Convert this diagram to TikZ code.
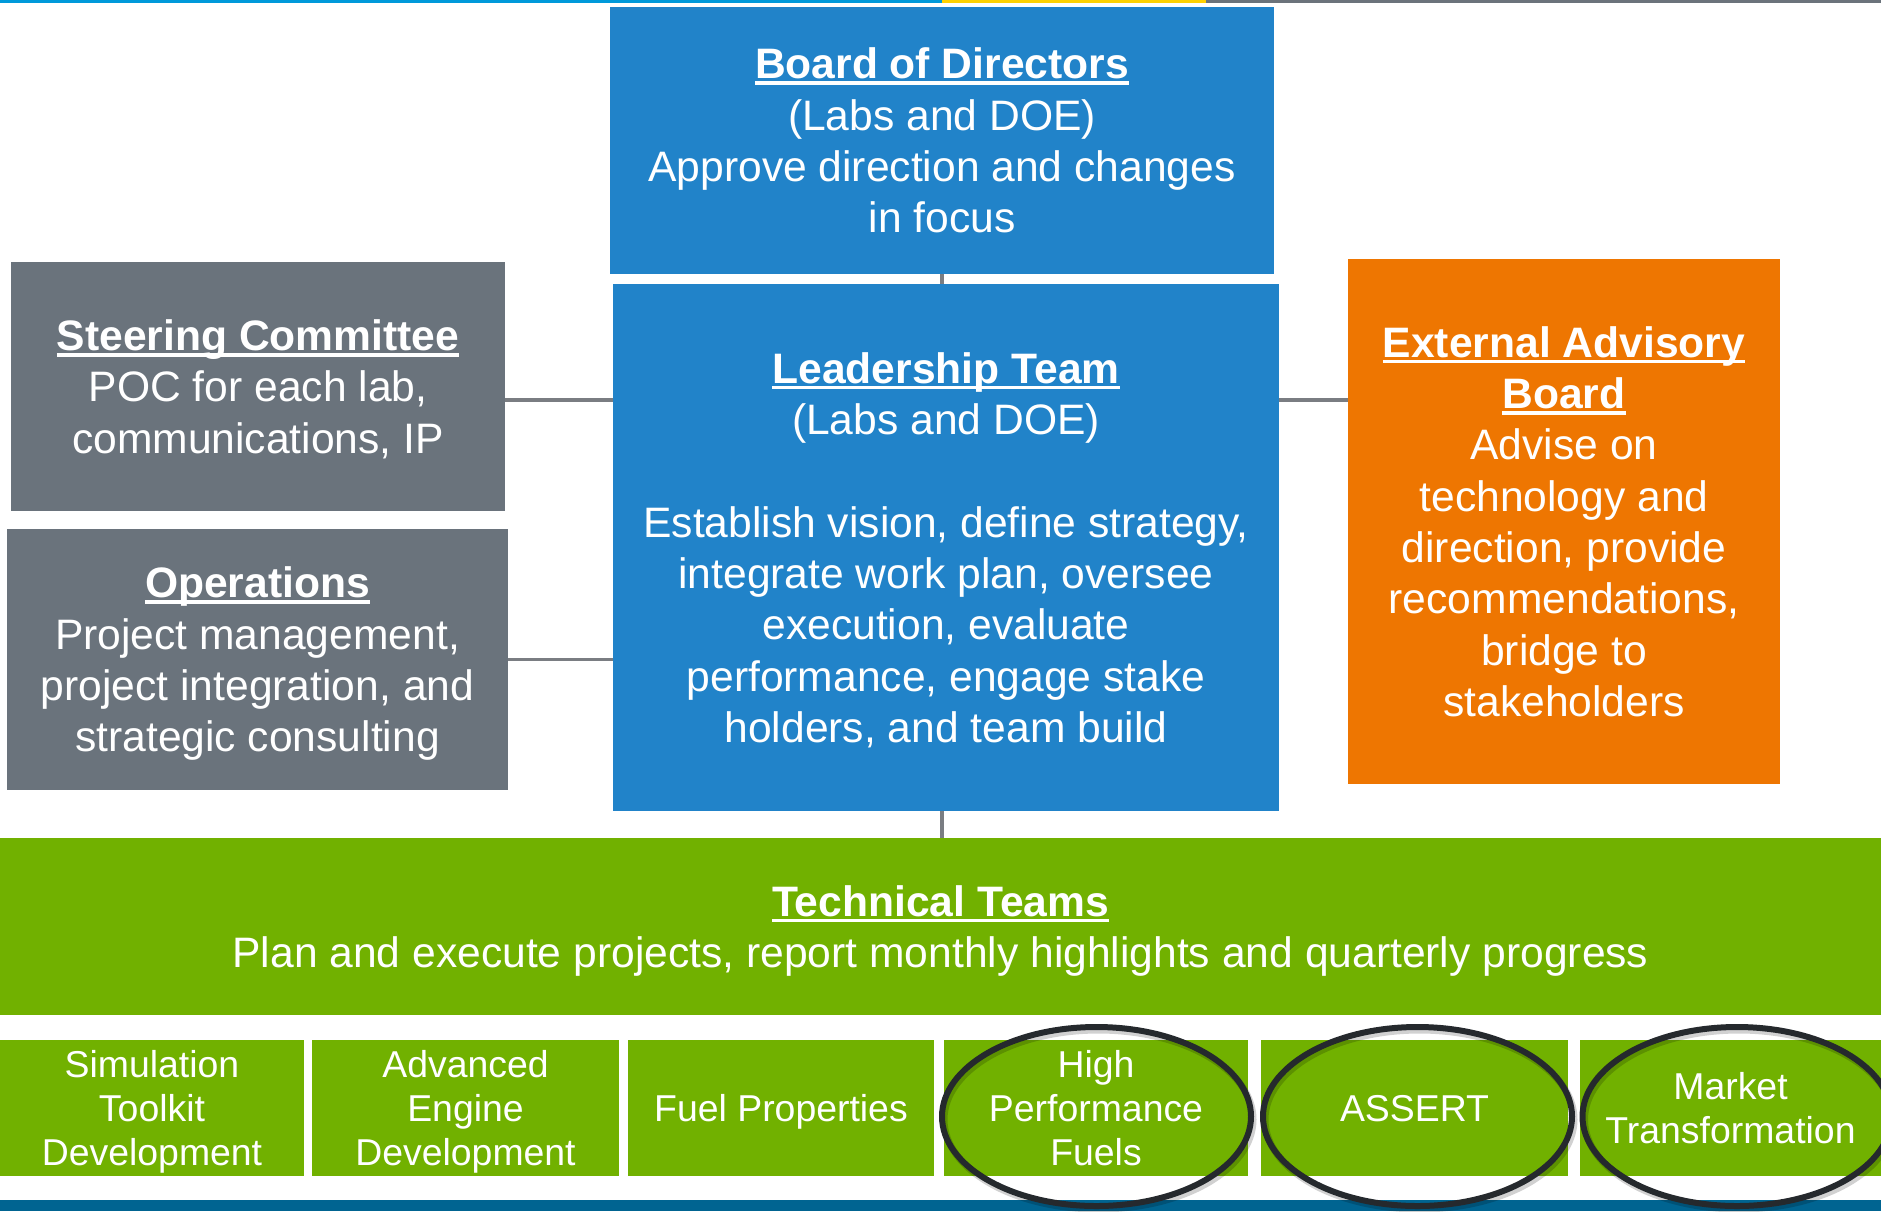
\documentclass[tikz,border=0pt]{standalone}
\usepackage{fontspec}
\setmainfont{Liberation Sans}
\definecolor{bblue}{HTML}{2183C9}
\definecolor{bgray}{HTML}{6A737C}
\definecolor{borange}{HTML}{EE7601}
\definecolor{bgreen}{HTML}{71B100}
\definecolor{stripeblue}{HTML}{0099DA}
\definecolor{stripeyellow}{HTML}{FFD100}
\definecolor{stripegray}{HTML}{6B737B}
\definecolor{bottomblue}{HTML}{006491}
\definecolor{linegray}{HTML}{7A7D82}
\definecolor{ringcol}{HTML}{25292D}
\newcommand\uhd[1]{\leavevmode\setbox0\hbox{\bfseries #1}\rlap{\rule[-6pt]{\wd0}{3.5pt}}\box0}
\begin{document}
\begin{tikzpicture}[x=1pt,y=-1pt,
  box/.style={draw=none, text=white, align=center, inner sep=0pt, text depth=0pt,
    font=\fontsize{42.6}{51.3}\selectfont},
  smallbox/.style={box, fill=bgreen, font=\fontsize{37.4}{44.4}\selectfont,
    minimum height=136pt},
  conn/.style={draw=linegray, line width=3.5pt},
  ring/.style={draw=ringcol, line width=6pt},
  ringshadow/.style={draw=black, opacity=0.18, line width=7pt}]
\useasboundingbox (0,0) rectangle (1881,1211);
% stripes
\fill[stripeblue] (0,0) rectangle (942,3);
\fill[stripeyellow] (942,0) rectangle (1206,3);
\fill[stripegray] (1206,0) rectangle (1881,3);
\fill[bottomblue] (0,1200) rectangle (1881,1211);

% main boxes
\node[box, fill=bblue, minimum width=664pt, minimum height=267pt] (board) at (942,140.5)
  {\uhd{Board of Directors}\\(Labs and DOE)\\Approve direction and changes\\in focus};
\node[box, fill=bblue, minimum width=666pt, minimum height=527pt] (lead) at (946,547.5)
  {\uhd{Leadership Team}\\(Labs and DOE)\\[51.3pt]Establish vision, define strategy,\\integrate work plan, oversee\\execution, evaluate\\performance, engage stake\\holders, and team build};
\node[box, fill=bgray, minimum width=494pt, minimum height=249pt] (steer) at (258,386.5)
  {\uhd{Steering Committee}\\POC for each lab,\\communications, IP};
\node[box, fill=bgray, minimum width=501pt, minimum height=261pt] (ops) at (257.5,659.5)
  {\uhd{Operations}\\Project management,\\project integration, and\\strategic consulting};
\node[box, fill=borange, minimum width=432pt, minimum height=525pt] (ext) at (1564,521.5)
  {\uhd{External Advisory}\\\uhd{Board}\\Advise on\\technology and\\direction, provide\\recommendations,\\bridge to\\stakeholders};
\node[box, fill=bgreen, minimum width=1881pt, minimum height=177pt] (tech) at (940.5,926.5)
  {\uhd{Technical Teams}\\Plan and execute projects, report monthly highlights and quarterly progress};

% bottom boxes
\node[smallbox, minimum width=304pt] (b1) at (152,1108) {Simulation\\Toolkit\\Development};
\node[smallbox, minimum width=307pt] (b2) at (465.5,1108) {Advanced\\Engine\\Development};
\node[smallbox, minimum width=306pt] (b3) at (781,1108) {Fuel Properties};
\node[smallbox, minimum width=304pt] (b4) at (1096,1108) {High\\Performance\\Fuels};
\node[smallbox, minimum width=307pt] (b5) at (1414.5,1108) {ASSERT};
\node[smallbox, minimum width=301pt] (b6) at (1730.5,1108) {Market\\Transformation};

% connectors
\coordinate (sy) at (0,400);
\draw[conn] (board.south) -- (board.south |- lead.north);
\draw[conn] (steer.east |- sy) -- (lead.west |- sy);
\draw[conn] (ops.east) -- (ops.east -| lead.west);
\draw[conn] (lead.east |- sy) -- (ext.west |- sy);
\draw[conn] (lead.south -| board.south) -- (board.south |- tech.north);

% rings
\foreach \cx in {1096.5,1417.5,1737} {
  \draw[ringshadow] (\cx+2,1119.5) ellipse [x radius=154.5pt, y radius=89.5pt];
  \draw[ring] (\cx,1116.5) ellipse [x radius=154.5pt, y radius=89.5pt];
}
\end{tikzpicture}
\end{document}
